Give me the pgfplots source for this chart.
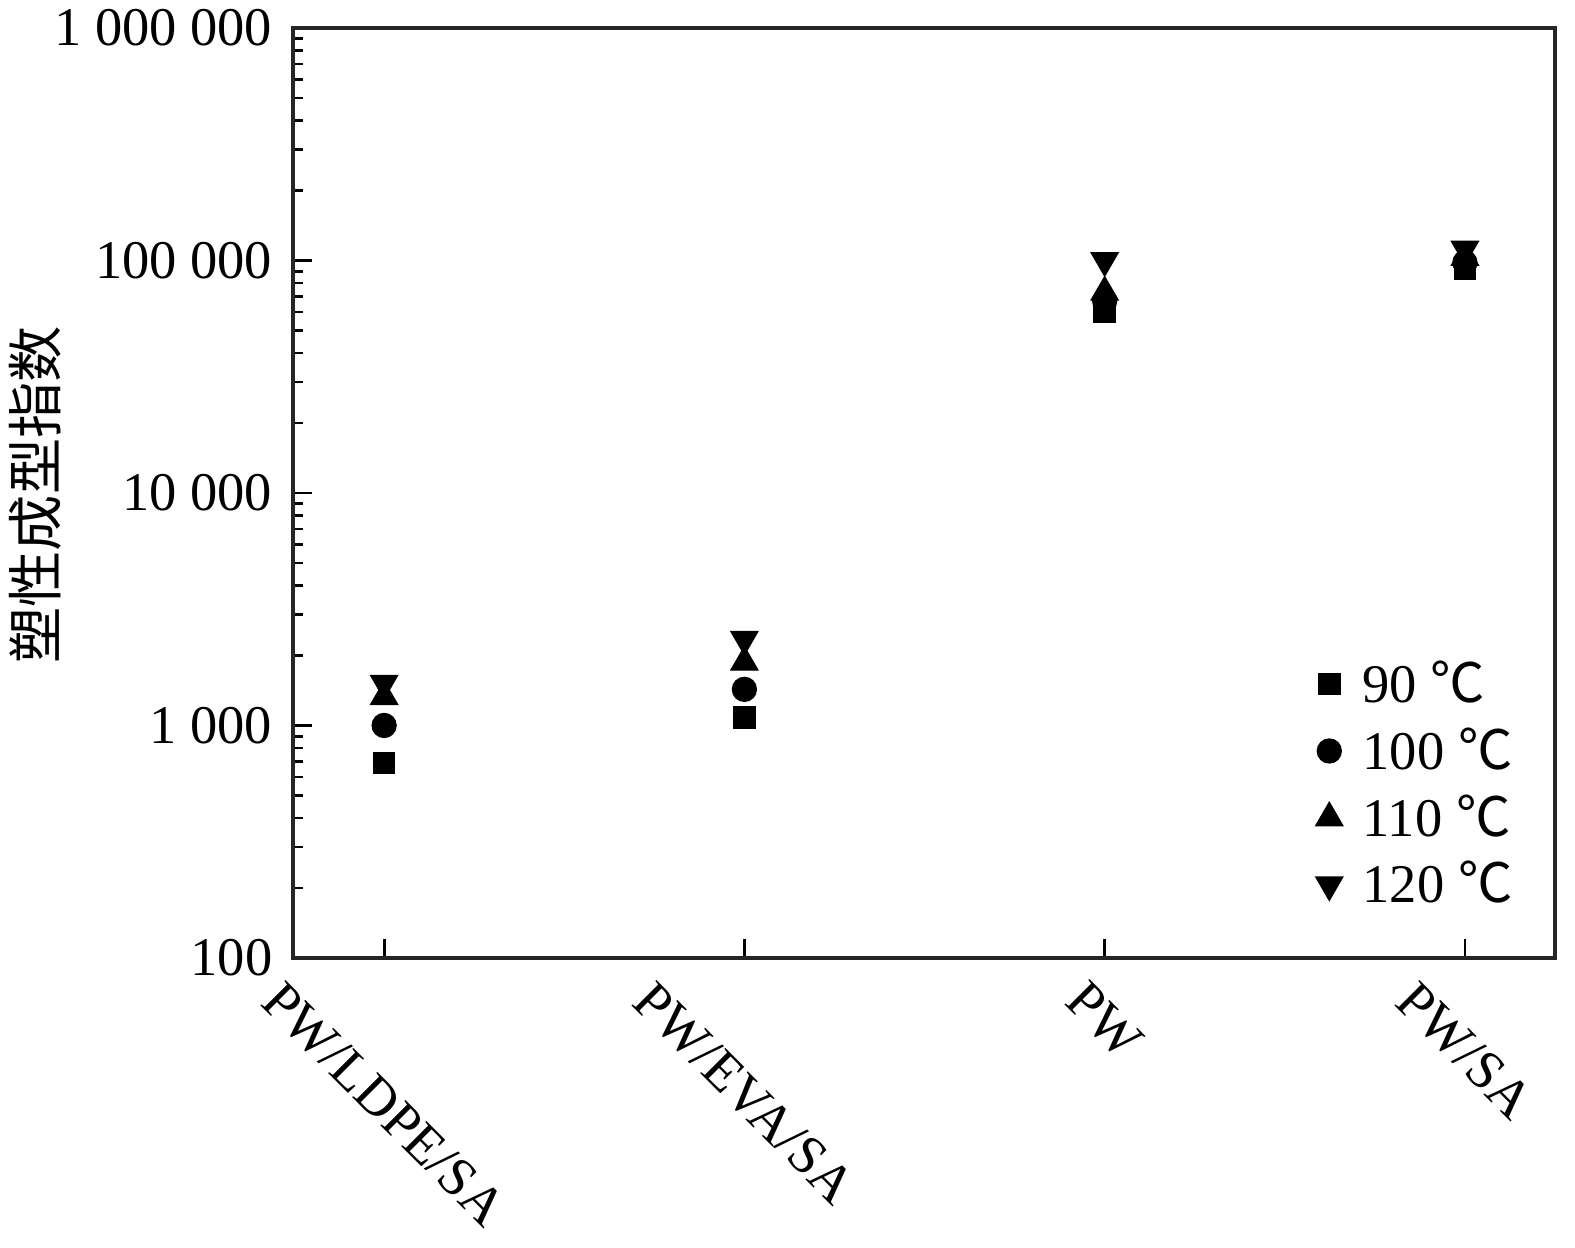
\documentclass[border=0pt]{standalone}
\usepackage{pgfplots}
\pgfplotsset{compat=1.18}
\usepackage{fontspec}
\setmainfont{Liberation Serif}
\newfontfamily\cjk{Noto Sans CJK SC}
\newcommand{\degC}{{\cjk ℃}}
\begin{document}
\begin{tikzpicture}
\begin{axis}[
  at={(0,0)}, anchor=south west,
  scale only axis, width=12.62cm, height=9.30cm,
  ymode=log, ymin=100, ymax=1000000,
  xmin=-0.253, xmax=3.25,
  axis line style={line width=0.9pt, black!85},
  xtick={0,1,2,3},
  xticklabels={\rotatebox{-45}{PW/LDPE/SA},\rotatebox{-45}{PW/EVA/SA},\rotatebox{-45}{PW},\rotatebox{-45}{PW/SA}},
  xtick pos=bottom, ytick pos=left,
  tick align=inside,
  major tick length=0.19cm, minor tick length=0.1cm,
  every tick/.style={black, line width=0.8pt},
  ytick={100,1000,10000,100000,1000000},
  yticklabels={100,1 000,10 000,100 000,1 000 000},
  tick label style={font=\fontsize{15.5}{18}\selectfont},
  xticklabel style={anchor=north, inner sep=0pt, yshift=-0.2cm},
  yticklabel style={inner sep=0pt, xshift=-0.2cm},
  ylabel={\cjk 塑性成型指数},
  ylabel style={at={(axis description cs:-0.204,0.498)}, anchor=center, font=\fontsize{16}{18}\selectfont},
  legend style={draw=none, fill=none, at={(axis description cs:0.81,0.328)}, anchor=north west,
    font=\fontsize{15.5}{18}\selectfont, row sep=0.06cm, inner sep=0pt,
    /tikz/every odd column/.append style={column sep=0.13cm}},
  legend cell align=left,
]
\addplot[only marks, mark=square*, mark size=3pt, black] coordinates {(0,690) (1,1080) (2,60000) (3,92000)};
\addlegendentry{90 \degC}
\addplot[only marks, mark=*, mark size=3.4pt, black] coordinates {(0,1000) (1,1430) (2,67000) (3,98000)};
\addlegendentry{100 \degC}
\addplot[only marks, mark=triangle*, mark size=4.4pt, black] coordinates {(0,1330) (1,1870) (2,73000) (3,103000)};
\addlegendentry{110 \degC}
\addplot[only marks, mark=triangle*, mark size=4.4pt, black, mark options={rotate=180}] coordinates {(0,1520) (1,2350) (2,100000) (3,112000)};
\addlegendentry{120 \degC}
\end{axis}
\pgfresetboundingbox
\path (-2.93cm,-2.90cm) rectangle (12.82cm,9.58cm);
\end{tikzpicture}
\end{document}
